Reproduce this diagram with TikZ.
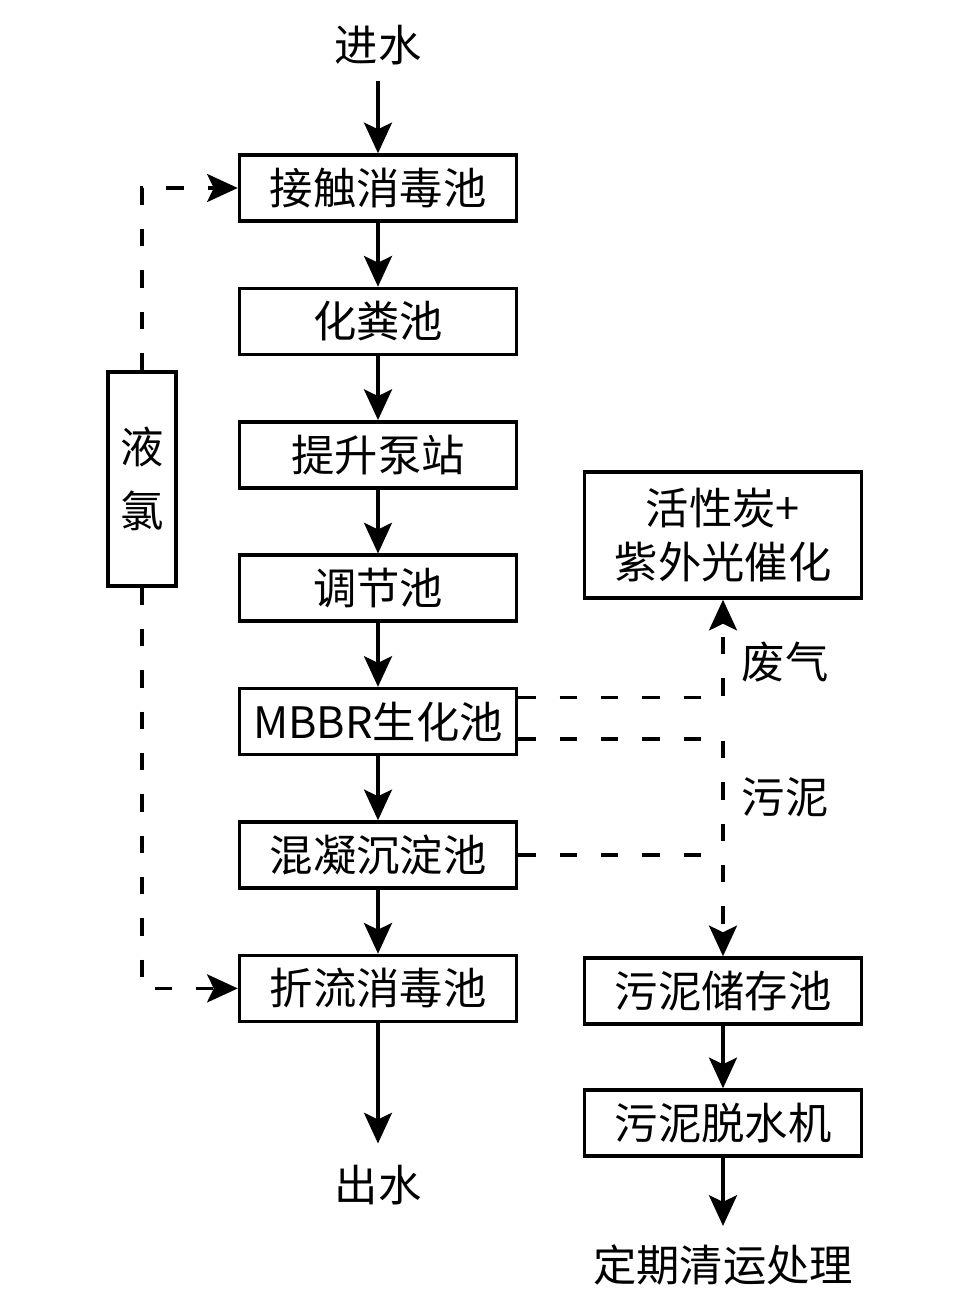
\documentclass[tikz,border=0pt]{standalone}
\usepackage{fontspec}
\setmainfont{Noto Sans CJK SC}
\usetikzlibrary{arrows.meta}
\tikzset{
  box/.style = {draw, line width = 2.6pt, inner sep = 0pt,
    minimum width = 207.75pt, minimum height = 49.5pt},
  arr/.style = {line width = 2.6pt, -{Stealth[length = 23pt, width = 21pt, inset = 5pt]}},
  dashln/.style = {line width = 2.6pt, dash pattern = on 13pt off 18pt},
  lbl/.style = {inner sep = 12pt}
}
\begin{document}
\begin{tikzpicture}[x = .75pt, y = -.75pt, font = \fontsize{32.5}{40.5}\selectfont]
    \useasboundingbox (0,0) rectangle (970,1314);
    \node[lbl] (in) at (378,45) {进水};
    \foreach \n/\t [count = \i] in {b1/接触消毒池, b2/化粪池, b3/提升泵站, b4/调节池,
      b5/MBBR生化池, b6/混凝沉淀池, b7/折流消毒池}
      \node[box] (\n) at (378, {188 + (\i - 1) * 133.4}) {\t};
    \node[lbl, inner sep = 16pt] (out) at (378,1185) {出水};
    \foreach \a/\b in {in/b1, b1/b2, b2/b3, b3/b4, b4/b5, b5/b6, b6/b7, b7/out}
      \draw[arr] (\a) -- (\b);
    \node[box, minimum width = 51pt, minimum height = 160.5pt, align = center] (cl) at (142,479) {液\\[8pt]氯};
    \draw[dashln, arr] (cl.north) |- (b1.west);
    \draw[dashln, arr] (cl.south) |- (b7.west);
    \node[box, minimum height = 94.5pt, align = center] (gas) at (723,535) {活性炭+\\紫外光催化};
    \node[box] (s1) at (723,991) {污泥储存池};
    \node[box] (s2) at (723,1123) {污泥脱水机};
    \node[lbl, inner sep = 14pt] (end) at (723,1265) {定期清运处理};
    \draw[dashln, arr] ([yshift = 18pt]b5.east) -| (gas.south);
    \draw[dashln, arr] ([yshift = -13pt]b5.east) -| (s1.north);
    \draw[dashln] (b6.east) -- (b6.east -| s1.north);
    \node (fq) at (785,662) {废气};
    \node (wn) at (785,797) {污泥};
    \draw[arr] (s1) -- (s2);
    \draw[arr] (s2) -- (end);
  \end{tikzpicture}
\end{document}
